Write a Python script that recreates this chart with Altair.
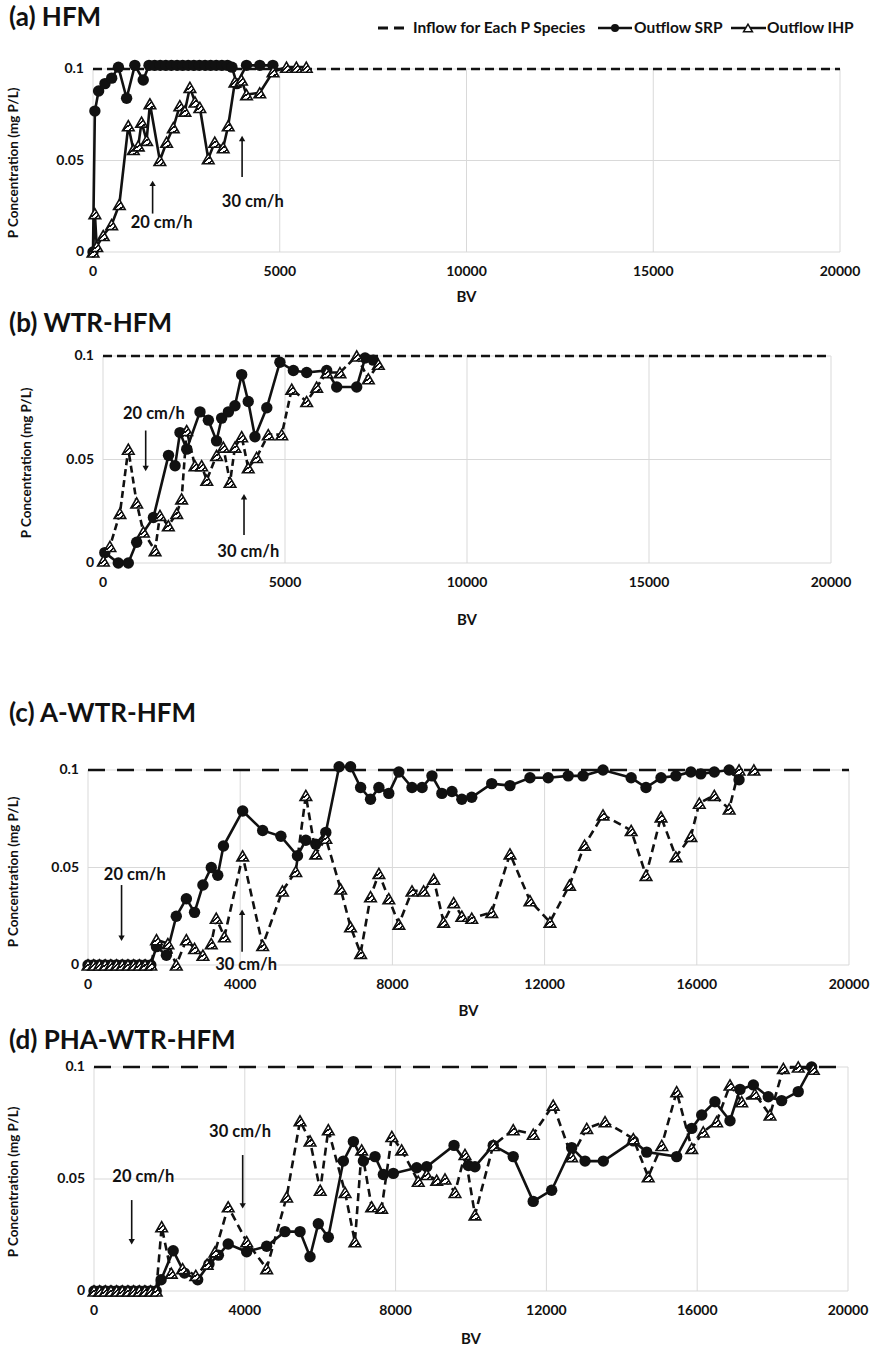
import altair as alt
import pandas as pd

FONT = "Lato"
W, H = 880, 1360
GRID = "#d9d9d9"
INK = "#111111"

# ---------------------------------------------------------------- data
inflow_p = 0.1
bv_domain = [0, 20000]
p_ticks = [0, 0.05, 0.1]
bv_ticks_5k = [0, 5000, 10000, 15000, 20000]
bv_ticks_4k = [0, 4000, 8000, 12000, 16000, 20000]

y_title = "P Concentration (mg P/L)"
x_title = "BV"
legend_labels = ["Inflow for Each P Species", "Outflow SRP", "Outflow IHP"]

# (a) HFM
a_srp_bv = [0, 50, 150, 320, 500, 680, 900, 1120, 1345, 1500, 1650, 1800, 1950, 2100,
            2250, 2400, 2550, 2700, 2850, 3000, 3150, 3300, 3450, 3600, 3720, 3850,
            4110, 4465, 4815]
a_srp_p = [0, 0.077, 0.088, 0.092, 0.095, 0.101, 0.084, 0.102, 0.094, 0.102, 0.102,
           0.102, 0.102, 0.102, 0.102, 0.102, 0.102, 0.102, 0.102, 0.102, 0.102, 0.102,
           0.102, 0.102, 0.101, 0.092, 0.102, 0.102, 0.102]
a_ihp_bv = [0, 50, 100, 275, 500, 705, 945, 1080, 1212, 1300, 1435, 1525, 1790, 1970,
            2150, 2325, 2460, 2595, 2730, 2860, 3085, 3260, 3485, 3620, 3800, 3975,
            4110, 4465, 4820, 5180, 5445, 5710]
a_ihp_p = [0, 0.021, 0.003, 0.009, 0.015, 0.026, 0.069, 0.056, 0.058, 0.071, 0.061,
           0.081, 0.050, 0.060, 0.068, 0.080, 0.077, 0.090, 0.082, 0.079, 0.051, 0.060,
           0.057, 0.069, 0.093, 0.094, 0.086, 0.087, 0.0985, 0.101, 0.101, 0.101]
a_note_text = ["20 cm/h", "30 cm/h"]
a_note_bv = [1837, 4278]
a_note_p = [0.016, 0.0275]
a_arrow_bv = [1596, 3992]
a_arrow_from = [0.021, 0.041]
a_arrow_to = [0.0375, 0.062]

# (b) WTR-HFM
b_srp_bv = [50, 420, 695, 925, 1385, 1800, 1980, 2115, 2300, 2665, 2895, 3120, 3260,
            3445, 3625, 3810, 3990, 4175, 4500, 4860, 5230, 5595, 6145, 6420, 6970,
            7200, 7425]
b_srp_p = [0.005, 0, 0, 0.010, 0.022, 0.052, 0.047, 0.063, 0.055, 0.073, 0.069, 0.059,
           0.070, 0.073, 0.076, 0.091, 0.078, 0.061, 0.075, 0.097, 0.093, 0.092, 0.093,
           0.085, 0.085, 0.099, 0.098]
b_ihp_bv = [10, 190, 465, 695, 925, 1110, 1430, 1565, 1795, 2025, 2160, 2300, 2525,
            2710, 2850, 3120, 3305, 3490, 3625, 3810, 3990, 4220, 4540, 4910, 5185,
            5595, 5870, 6145, 6510, 6970, 7290, 7565]
b_ihp_p = [0.001, 0.008, 0.024, 0.055, 0.029, 0.015, 0.006, 0.023, 0.018, 0.024, 0.031,
           0.064, 0.047, 0.047, 0.040, 0.052, 0.056, 0.039, 0.056, 0.061, 0.046, 0.051,
           0.062, 0.062, 0.084, 0.078, 0.085, 0.092, 0.092, 0.100, 0.089, 0.096]
b_note_text = ["20 cm/h", "30 cm/h"]
b_note_bv = [1400, 3992]
b_note_p = [0.072, 0.0055]
b_arrow_bv = [1173, 3874]
b_arrow_from = [0.064, 0.0135]
b_arrow_to = [0.0456, 0.032]

# (c) A-WTR-HFM
start_bv = [0, 150, 300, 450, 600, 750, 900, 1050, 1200, 1350, 1500, 1650]
start_p = [0] * 12
c_srp_bv = start_bv + [1800, 2060, 2320, 2585, 2800, 3020, 3240, 3410, 3560, 4065,
                       4590, 5070, 5505, 5725, 5985, 6250, 6600, 6900, 7165, 7425,
                       7645, 7905, 8170, 8515, 8780, 9040, 9300, 9565, 9825, 10085,
                       10610, 11090, 11615, 12095, 12620, 13010, 13535, 14275, 14665,
                       15060, 15450, 15845, 16105, 16460, 16850, 17110]
c_srp_p = start_p + [0.0094, 0.005, 0.025, 0.034, 0.027, 0.041, 0.050, 0.046, 0.061,
                     0.079, 0.069, 0.066, 0.056, 0.064, 0.062, 0.068, 0.1017, 0.1017,
                     0.091, 0.085, 0.091, 0.088, 0.099, 0.091, 0.091, 0.097, 0.088,
                     0.089, 0.085, 0.086, 0.093, 0.092, 0.096, 0.096, 0.097, 0.097,
                     0.1, 0.096, 0.091, 0.096, 0.097, 0.099, 0.098, 0.099, 0.1, 0.095]
c_ihp_bv = start_bv + [1800, 2100, 2320, 2585, 2800, 3020, 3240, 3370, 3585, 4065,
                       4590, 5110, 5460, 5725, 5985, 6250, 6640, 6900, 7165, 7425,
                       7645, 7905, 8170, 8515, 8820, 9085, 9345, 9610, 9825, 10085,
                       10610, 11090, 11615, 12140, 12655, 13050, 13535, 14275, 14665,
                       15060, 15450, 15845, 16065, 16460, 16850, 17110, 17500]
c_ihp_p = start_p + [0.013, 0.011, 0.0, 0.013, 0.0085, 0.005, 0.011, 0.024, 0.0145,
                     0.056, 0.010, 0.038, 0.048, 0.087, 0.057, 0.065, 0.039, 0.0196,
                     0.006, 0.035, 0.047, 0.034, 0.021, 0.038, 0.038, 0.044, 0.022,
                     0.032, 0.025, 0.024, 0.027, 0.057, 0.033, 0.022, 0.041, 0.0615,
                     0.077, 0.069, 0.046, 0.076, 0.0555, 0.066, 0.083, 0.087, 0.080,
                     0.1, 0.1]
c_note_text = ["20 cm/h", "30 cm/h"]
c_note_bv = [1230, 4155]
c_note_p = [0.046, 0.0]
c_arrow_bv = [882, 4050]
c_arrow_from = [0.041, 0.0068]
c_arrow_to = [0.0137, 0.027]

# (d) PHA-WTR-HFM
d_srp_bv = start_bv + [1780, 2100, 2400, 2750, 3050, 3300, 3560, 4050, 4580, 5065,
                       5465, 5730, 5950, 6215, 6615, 6880, 7145, 7455, 7675, 7940,
                       8560, 8825, 9550, 9930, 10105, 10590, 11120, 11650, 12140,
                       12670, 13025, 13510, 14305, 14660, 15455, 15855, 16120, 16470,
                       16870, 17135, 17490, 17885, 18240, 18680, 19035]
d_srp_p = start_p + [0.005, 0.018, 0.008, 0.005, 0.012, 0.016, 0.021, 0.0175, 0.020,
                     0.0265, 0.0265, 0.0153, 0.030, 0.024, 0.058, 0.0667, 0.058, 0.060,
                     0.052, 0.0525, 0.055, 0.0555, 0.065, 0.056, 0.0555, 0.065, 0.060,
                     0.040, 0.045, 0.064, 0.058, 0.058, 0.067, 0.062, 0.060, 0.0726,
                     0.0786, 0.0845, 0.076, 0.090, 0.092, 0.0867, 0.085, 0.089, 0.1]
d_ihp_bv = start_bv + [1795, 2050, 2350, 2700, 3000, 3210, 3560, 4050, 4580, 5110,
                       5465, 5730, 6000, 6215, 6660, 6920, 7100, 7365, 7630, 7900,
                       8160, 8600, 8825, 9090, 9310, 9575, 9840, 10105, 10590, 11120,
                       11650, 12180, 12670, 13070, 13555, 14305, 14700, 15060, 15455,
                       15855, 16160, 16515, 16870, 17180, 17530, 17930, 18285, 18680,
                       19080]
d_ihp_p = start_p + [0.0287, 0.008, 0.010, 0.007, 0.012, 0.0175, 0.0376, 0.022, 0.010,
                     0.042, 0.076, 0.067, 0.045, 0.072, 0.044, 0.022, 0.063, 0.0376,
                     0.037, 0.069, 0.063, 0.049, 0.052, 0.0495, 0.050, 0.044, 0.061,
                     0.034, 0.065, 0.072, 0.070, 0.083, 0.060, 0.0726, 0.0756, 0.068,
                     0.051, 0.065, 0.089, 0.0637, 0.071, 0.0756, 0.092, 0.0845, 0.088,
                     0.0786, 0.0994, 0.1, 0.099]
d_note_text = ["20 cm/h", "30 cm/h"]
d_note_bv = [1308, 3873]
d_note_p = [0.051, 0.071]
d_arrow_bv = [1000, 3944]
d_arrow_from = [0.0406, 0.0607]
d_arrow_to = [0.022, 0.038]

# ---------------------------------------------------------------- layout
# plot-area boxes of the four panels, in page pixels
PANELS = [
    dict(title="(a) HFM", title_y=18, left=93, right=840, top=69, bottom=252,
         xticks=bv_ticks_5k, ytitle_x=14, ytitle_y=163, bv_y=297,
         inflow_dash=[9, 5], ihp_dash=None),
    dict(title="(b) WTR-HFM", title_y=324, left=103, right=831, top=356, bottom=563,
         xticks=bv_ticks_5k, ytitle_x=27, ytitle_y=463, bv_y=620,
         inflow_dash=[9, 5], ihp_dash=[7, 4]),
    dict(title="(c) A-WTR-HFM", title_y=714, left=88, right=849, top=770, bottom=965,
         xticks=bv_ticks_4k, ytitle_x=14, ytitle_y=872, bv_y=1011,
         inflow_dash=[17, 12], ihp_dash=[8, 5]),
    dict(title="(d) PHA-WTR-HFM", title_y=1041, left=94, right=848, top=1067,
         bottom=1291, xticks=bv_ticks_4k, ytitle_x=14, ytitle_y=1182, bv_y=1339,
         inflow_dash=[17, 12], ihp_dash=[8, 5]),
]

HATCH_STOPS = [(0.0, "white"), (0.2, "white"), (0.2, INK), (0.3, INK), (0.3, "white"),
               (0.45, "white"), (0.45, INK), (0.55, INK), (0.55, "white"),
               (0.7, "white"), (0.7, INK), (0.8, INK), (0.8, "white"), (1.0, "white")]
HATCH = alt.LinearGradient(
    gradient="linear", x1=0, y1=0, x2=1, y2=1,
    stops=[alt.GradientStop(offset=o, color=c) for o, c in HATCH_STOPS],
)
BOLD = dict(font=FONT, fontWeight="bold", color=INK)


def frame(bv, p):
    return pd.DataFrame({"BV": bv, "P": p, "i": list(range(len(bv)))})


def panel(g, srp_bv, srp_p, ihp_bv, ihp_p, notes):
    xs = alt.Scale(domain=bv_domain, range=[g["left"], g["right"]], nice=False, zero=False)
    ys = alt.Scale(domain=[0, 0.1], range=[g["bottom"], g["top"]], nice=False, zero=False)

    def X(field="BV"):
        return alt.X(f"{field}:Q", scale=xs, axis=None)

    def Y(field="P"):
        return alt.Y(f"{field}:Q", scale=ys, axis=None)

    y_at0 = alt.YDatum(0, scale=ys, axis=None)
    x_at0 = alt.XDatum(0, scale=xs, axis=None)

    # gridlines and tick labels, all placed through the panel scales
    xt = pd.DataFrame({"BV": g["xticks"], "lab": [f"{t:d}" for t in g["xticks"]]})
    yt = pd.DataFrame({"P": p_ticks, "lab": [f"{p:g}" for p in p_ticks]})
    vgrid = alt.Chart(xt).mark_rule(color=GRID, strokeWidth=1).encode(
        x=X(), y=y_at0, y2=alt.Y2Datum(0.1))
    hgrid = alt.Chart(yt).mark_rule(color=GRID, strokeWidth=1).encode(
        y=Y(), x=x_at0, x2=alt.X2Datum(20000))
    xlab = alt.Chart(xt).mark_text(
        fontSize=14, align="center", baseline="middle", dy=20, **BOLD).encode(
        x=X(), y=y_at0, text="lab:N")
    ylab = alt.Chart(yt).mark_text(
        fontSize=14, align="right", baseline="middle", dx=-9, **BOLD).encode(
        x=x_at0, y=Y(), text="lab:N")
    xname = alt.Chart(pd.DataFrame({"t": [x_title]})).mark_text(
        fontSize=15, align="center", baseline="middle", **BOLD).encode(
        x=alt.value((g["left"] + g["right"]) / 2), y=alt.value(g["bv_y"]), text="t:N")
    yname = alt.Chart(pd.DataFrame({"t": [y_title]})).mark_text(
        fontSize=13.5, angle=270, align="center", baseline="middle", **BOLD).encode(
        x=alt.value(g["ytitle_x"]), y=alt.value(g["ytitle_y"]), text="t:N")

    inflow = alt.Chart(frame(bv_domain, [inflow_p, inflow_p])).mark_line(
        color=INK, strokeWidth=2.6, strokeDash=g["inflow_dash"]).encode(x=X(), y=Y())

    srp = frame(srp_bv, srp_p)
    srp_line = alt.Chart(srp).mark_line(color=INK, strokeWidth=2.6).encode(
        x=X(), y=Y(), order="i:Q")
    srp_pts = alt.Chart(srp).mark_point(
        shape="circle", filled=True, color=INK, size=130, opacity=1).encode(x=X(), y=Y())

    ihp = frame(ihp_bv, ihp_p)
    line_kw = dict(color=INK, strokeWidth=2.6)
    if g["ihp_dash"]:
        line_kw["strokeDash"] = g["ihp_dash"]
    ihp_line = alt.Chart(ihp).mark_line(**line_kw).encode(x=X(), y=Y(), order="i:Q")
    ihp_pts = alt.Chart(ihp).mark_point(
        shape="triangle-up", filled=True, fill=HATCH, stroke=INK, strokeWidth=1.6,
        size=135, opacity=1).encode(x=X(), y=Y())

    text, nbv, np_, abv, afrom, ato = notes
    note_df = pd.DataFrame({"label": text, "BV": nbv, "P": np_})
    arrow_df = pd.DataFrame({
        "BV": abv, "P0": afrom, "P1": ato,
        "dir": ["up" if b > a else "down" for a, b in zip(afrom, ato)],
    })
    arrow_shaft = alt.Chart(arrow_df).mark_rule(color=INK, strokeWidth=1.6).encode(
        x=X(), y=Y("P0"), y2="P1:Q")
    arrow_head = alt.Chart(arrow_df).mark_point(
        filled=True, color=INK, size=40, opacity=1).encode(
        x=X(), y=Y("P1"),
        shape=alt.Shape("dir:N", legend=None, scale=alt.Scale(
            domain=["up", "down"], range=["triangle-up", "triangle-down"])))
    note = alt.Chart(note_df).mark_text(
        fontSize=16.5, align="center", baseline="middle", **BOLD).encode(
        x=X(), y=Y(), text="label:N")

    title = alt.Chart(pd.DataFrame({"t": [g["title"]]})).mark_text(
        fontSize=26, align="left", baseline="middle", **BOLD).encode(
        x=alt.value(9), y=alt.value(g["title_y"]), text="t:N")

    return alt.layer(vgrid, hgrid, xlab, ylab, xname, yname, inflow,
                     srp_line, srp_pts, ihp_line, ihp_pts,
                     arrow_shaft, arrow_head, note, title)


panel_a = panel(PANELS[0], a_srp_bv, a_srp_p, a_ihp_bv, a_ihp_p,
                (a_note_text, a_note_bv, a_note_p, a_arrow_bv, a_arrow_from, a_arrow_to))
panel_b = panel(PANELS[1], b_srp_bv, b_srp_p, b_ihp_bv, b_ihp_p,
                (b_note_text, b_note_bv, b_note_p, b_arrow_bv, b_arrow_from, b_arrow_to))
panel_c = panel(PANELS[2], c_srp_bv, c_srp_p, c_ihp_bv, c_ihp_p,
                (c_note_text, c_note_bv, c_note_p, c_arrow_bv, c_arrow_from, c_arrow_to))
panel_d = panel(PANELS[3], d_srp_bv, d_srp_p, d_ihp_bv, d_ihp_p,
                (d_note_text, d_note_bv, d_note_p, d_arrow_bv, d_arrow_from, d_arrow_to))

# ---------------------------------------------------------------- legend row
LEG_Y = 28
one = pd.DataFrame({"k": [0]})
leg_text_kw = dict(fontSize=15.5, align="left", baseline="middle", **BOLD)
legend = alt.layer(
    alt.Chart(one).mark_rule(color=INK, strokeWidth=2.8, strokeDash=[10, 6]).encode(
        x=alt.value(378), x2=alt.value(404), y=alt.value(LEG_Y)),
    alt.Chart(one).mark_text(text=legend_labels[0], **leg_text_kw).encode(
        x=alt.value(413), y=alt.value(LEG_Y)),
    alt.Chart(one).mark_rule(color=INK, strokeWidth=2.6).encode(
        x=alt.value(598), x2=alt.value(632), y=alt.value(LEG_Y)),
    alt.Chart(one).mark_point(shape="circle", filled=True, color=INK, size=64,
                              opacity=1).encode(x=alt.value(615), y=alt.value(LEG_Y)),
    alt.Chart(one).mark_text(text=legend_labels[1], **leg_text_kw).encode(
        x=alt.value(634), y=alt.value(LEG_Y)),
    alt.Chart(one).mark_rule(color=INK, strokeWidth=2.6).encode(
        x=alt.value(731), x2=alt.value(766), y=alt.value(LEG_Y)),
    alt.Chart(one).mark_point(shape="triangle-up", filled=True, fill="white",
                              stroke=INK, strokeWidth=1.5, size=80, opacity=1).encode(
        x=alt.value(748), y=alt.value(LEG_Y)),
    alt.Chart(one).mark_text(text=legend_labels[2], **leg_text_kw).encode(
        x=alt.value(767), y=alt.value(LEG_Y)),
)

chart = (
    alt.layer(panel_a, panel_b, panel_c, panel_d, legend)
    .resolve_scale(x="independent", y="independent")
    .properties(width=W, height=H, padding=0,
                autosize=alt.AutoSizeParams(type="none"), background="white")
    .configure_view(stroke=None)
)

chart.save("out.html", embed_options={"renderer": "svg", "actions": False})
